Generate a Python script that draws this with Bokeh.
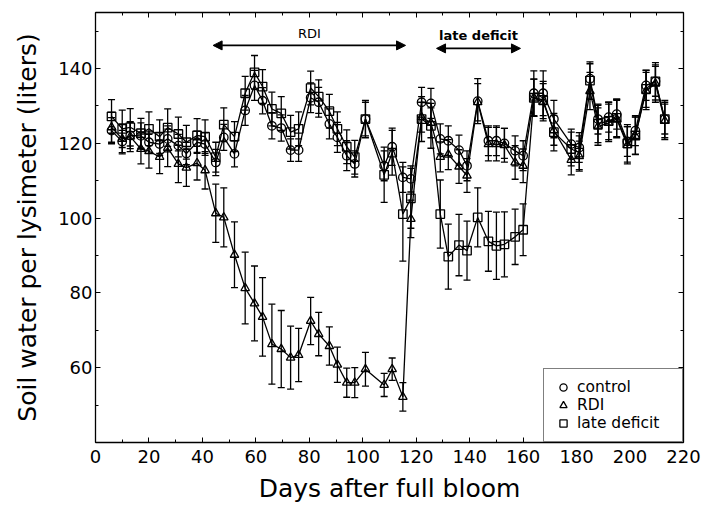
from bokeh.plotting import figure
from bokeh.models import (ColumnDataSource, Whisker, TeeHead, LinearAxis, Range1d,
                          Legend, LegendItem, Arrow, NormalHead, Label, FixedTicker)
from bokeh.embed import file_html
from bokeh.resources import INLINE

# ---- data ----
days = [6, 10, 13, 17, 20, 24, 27, 31, 34, 38,
        41, 45, 48, 52, 56, 59.5, 62.5, 66, 69.5, 73,
        76, 80.5, 83.5, 87.5, 90.5, 94, 97, 101, 108, 111,
        115, 118, 122, 125.5, 129, 132, 136, 139, 143, 147,
        150, 153, 157, 160, 164, 167.5, 171.5, 178, 181, 185,
        188, 192, 195, 199, 202, 206, 209.5, 213]

control = [123.4, 120.5, 122.1, 122.0, 120.3, 119.8, 121.2, 119.4, 117.3, 120.3,
           119.8, 114.9, 121.6, 117.2, 128.8, 135.5, 131.4, 124.7, 124.1, 118.2,
           118.2, 132.2, 131.0, 125.2, 121.6, 116.7, 114.5, 126.5, 114.0, 119.1,
           110.9, 110.5, 131.0, 130.7, 121.2, 120.7, 118.2, 114.0, 131.3, 120.7,
           120.7, 120.0, 118.0, 116.7, 133.4, 133.4, 126.5, 119.8, 118.9, 137.3,
           126.5, 127.0, 127.8, 120.5, 123.4, 135.5, 136.6, 126.5]
control_err = [3.5, 3, 3.5, 3.5, 3, 3, 3.5, 3, 3, 3,
               3, 3.5, 3.5, 3.5, 4, 4, 3.5, 3.5, 3.5, 3,
               3, 4, 4, 4, 4, 4, 3.5, 5, 4, 5,
               4, 3.5, 4, 4, 4, 4, 4, 4, 6, 4,
               4, 4, 4, 4, 6, 6, 5, 4, 4, 4,
               4, 4, 4, 4, 4, 4, 4, 4]

rdi = [124.3, 121.2, 121.8, 118.5, 117.9, 116.4, 118.8, 114.5, 113.5, 114.7,
       112.8, 101.3, 100.2, 90.2, 81.3, 77.2, 73.6, 66.3, 65.0, 62.7,
       63.4, 72.5, 69.0, 65.8, 60.8, 56.0, 56.0, 59.6, 55.4, 59.6,
       52.2, 99.8, 127.0, 125.5, 116.4, 117.0, 113.8, 111.4, 131.0, 119.8,
       119.8, 119.5, 114.9, 114.0, 132.2, 131.0, 123.5, 115.6, 116.6, 134.0,
       124.5, 125.5, 126.5, 119.5, 122.0, 134.0, 136.0, 126.0]
rdi_err = [4, 4, 4, 4, 4.5, 4.5, 5, 5, 5, 4.5,
           5, 7.8, 7.9, 8.8, 9.6, 10, 10.5, 10.7, 10.3, 8.4,
           7.1, 6.3, 5.8, 5.1, 4.7, 3.9, 4, 4.5, 3.1, 3,
           3.8, 5, 4, 4, 4, 4, 4.5, 4.5, 5, 4.5,
           4.5, 4.5, 4.5, 4.5, 5, 5, 4, 4, 4, 5,
           5, 5, 5, 5, 5, 5, 5, 5]

late = [127.2, 123.9, 124.3, 122.7, 123.9, 121.8, 124.2, 122.5, 120.3, 122.1,
        121.8, 116.3, 125.0, 121.8, 133.4, 139.0, 135.2, 129.2, 128.0, 123.0,
        123.9, 134.8, 132.5, 128.6, 123.9, 119.1, 116.3, 126.5, 111.6, 117.5,
        101.1, 105.3, 126.5, 124.7, 101.1, 89.7, 92.8, 91.3, 100.2, 93.8,
        92.6, 93.0, 95.0, 96.9, 132.2, 131.6, 123.0, 118.5, 117.5, 136.8,
        125.2, 126.0, 126.8, 120.0, 122.1, 134.6, 136.6, 126.5]
late_err = [4.5, 5, 5, 4, 4.5, 4.5, 5, 4.5, 4.5, 4.5,
            4.5, 4, 4.5, 4, 4.5, 4.5, 4.5, 4.5, 4.5, 4.5,
            4.5, 4.5, 4.5, 4.5, 4.5, 4.5, 4.5, 4.5, 7.4, 6,
            12.6, 8, 6, 6, 9.1, 8.7, 8.2, 7.9, 7.9, 8,
            9, 8.7, 7.4, 6.9, 5, 5, 5, 4.5, 4.5, 5,
            5, 5, 5, 5, 5, 5, 5, 5]

series_names = ["control", "RDI", "late deficit"]
rdi_period = [44, 116]
late_period = [127.6, 159]
rdi_label_y = 149.3
rdi_arrow_y = 146.2
late_label_y = 148.8
late_arrow_y = 145.4

x_ticks = list(range(0, 221, 20))
x_minor = list(range(10, 220, 20))
y_ticks = [60, 80, 100, 120, 140]
y_minor = [50, 70, 90, 110, 130, 150]

FONT = "DejaVu Sans"

p = figure(width=701, height=510, x_range=Range1d(0, 220), y_range=Range1d(40, 155),
           output_backend="svg", toolbar_location=None,
           min_border_left=95, min_border_right=18, min_border_top=12, min_border_bottom=68)
p.xgrid.visible = False
p.ygrid.visible = False
p.outline_line_color = "black"
p.background_fill_color = "white"
p.border_fill_color = "white"

xt = FixedTicker(ticks=x_ticks, minor_ticks=x_minor)
yt = FixedTicker(ticks=y_ticks, minor_ticks=y_minor)
bottom_ax = p.below[0]
left_ax = p.left[0]
bottom_ax.ticker = xt
left_ax.ticker = yt
top_ax = LinearAxis(ticker=xt)
right_ax = LinearAxis(ticker=yt)
p.add_layout(top_ax, "above")
p.add_layout(right_ax, "right")

for ax in (bottom_ax, left_ax, top_ax, right_ax):
    ax.axis_line_color = "black"
    ax.axis_line_width = 1.3
    ax.major_tick_in = 5
    ax.major_tick_out = 0
    ax.minor_tick_in = 3
    ax.minor_tick_out = 0
    ax.major_tick_line_color = "black"
    ax.minor_tick_line_color = "black"
    ax.major_label_text_font = FONT
    ax.major_label_text_font_size = "18px"
    ax.major_label_text_color = "black"
    ax.axis_label_text_font = FONT
    ax.axis_label_text_font_style = "normal"
    ax.axis_label_text_color = "black"

for ax in (top_ax, right_ax):
    ax.major_label_text_color = None
    ax.major_label_text_font_size = "1px"
    ax.major_label_standoff = 0

bottom_ax.axis_label = "Days after full bloom"
bottom_ax.axis_label_text_font_size = "25px"
bottom_ax.major_label_standoff = 7
bottom_ax.axis_label_standoff = 8
left_ax.axis_label = "Soil water per lysimeter (liters)"
left_ax.axis_label_text_font_size = "25px"
left_ax.major_label_standoff = 3
left_ax.axis_label_standoff = 13

markers = ["circle", "triangle", "square"]
values = [control, rdi, late]
errors = [control_err, rdi_err, late_err]
renderers = []
for name, mk, ys, es in zip(series_names, markers, values, errors):
    src = ColumnDataSource(dict(x=days, y=ys,
                                lo=[a - b for a, b in zip(ys, es)],
                                hi=[a + b for a, b in zip(ys, es)]))
    w = Whisker(source=src, base="x", lower="lo", upper="hi",
                line_color="black", line_width=1.3,
                upper_head=TeeHead(size=7, line_color="black", line_width=1.3),
                lower_head=TeeHead(size=7, line_color="black", line_width=1.3))
    p.add_layout(w)
    p.line("x", "y", source=src, line_color="black", line_width=1.3)
    r = p.scatter("x", "y", source=src, marker=mk, size=8.5, fill_color=None,
                  line_color="black", line_width=1.3)
    renderers.append(r)

legend = Legend(items=[LegendItem(label=n, renderers=[r]) for n, r in zip(series_names, renderers)],
                location="bottom_right", margin=0, padding=9, spacing=0,
                glyph_height=18, glyph_width=20, label_height=18, label_width=96,
                label_standoff=4, label_text_font=FONT, label_text_font_size="15.5px",
                label_text_color="black",
                border_line_color="black", border_line_width=1.3,
                background_fill_color="white", background_fill_alpha=1.0)
p.add_layout(legend)

head = dict(size=9, fill_color="black", line_color="black")
p.add_layout(Arrow(x_start=rdi_period[0], x_end=rdi_period[1], y_start=rdi_arrow_y, y_end=rdi_arrow_y,
                   start=NormalHead(**head), end=NormalHead(**head), line_width=1.6, line_color="black"))
p.add_layout(Arrow(x_start=late_period[0], x_end=late_period[1], y_start=late_arrow_y, y_end=late_arrow_y,
                   start=NormalHead(**head), end=NormalHead(**head), line_width=1.6, line_color="black"))
p.add_layout(Label(x=sum(rdi_period) / 2, y=rdi_label_y, text="RDI", text_align="center",
                   text_baseline="middle", text_font=FONT, text_font_size="13px", text_color="black"))
p.add_layout(Label(x=sum(late_period) / 2, y=late_label_y, text="late deficit", text_align="center",
                   text_baseline="middle", text_font=FONT, text_font_size="13px", text_color="black",
                   text_font_style="bold"))

open("out.html", "w").write(file_html(p, INLINE))
